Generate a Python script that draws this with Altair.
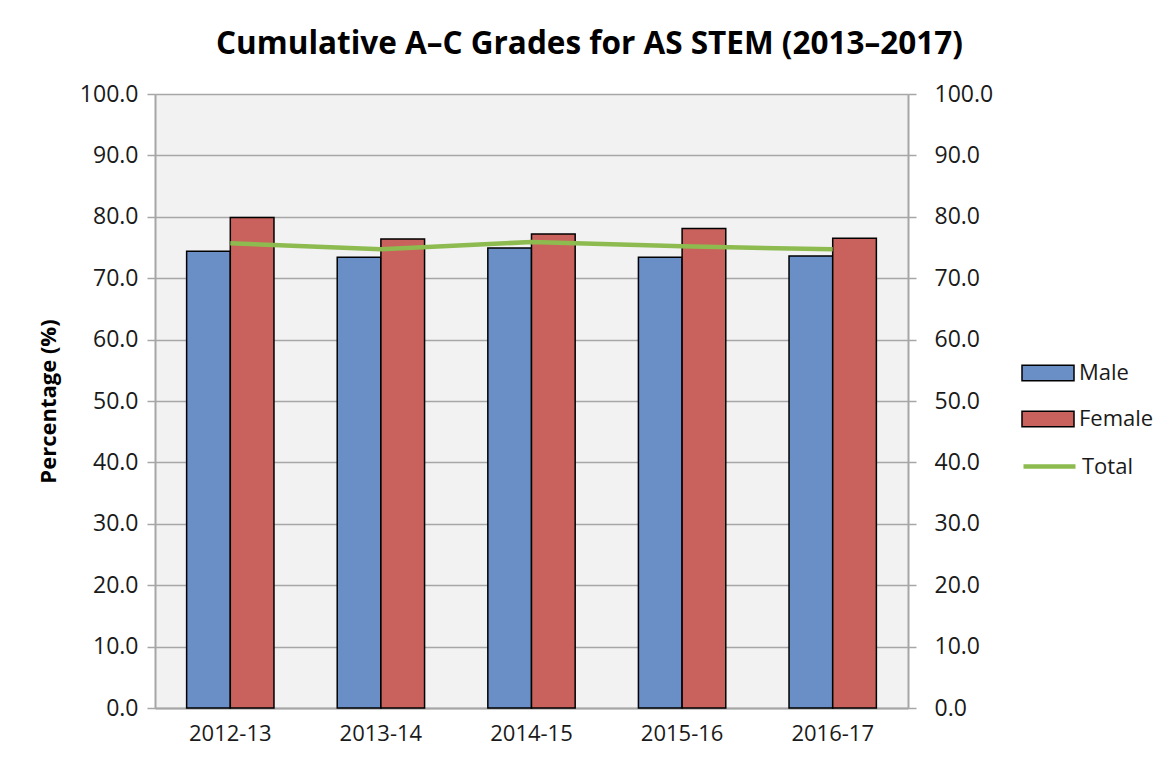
import altair as alt
import pandas as pd

periods = ["2012-13", "2013-14", "2014-15", "2015-16", "2016-17"]
male = [74.4, 73.4, 74.9, 73.4, 73.6]
female = [79.9, 76.4, 77.2, 78.1, 76.5]
total = [75.7, 74.7, 75.9, 75.2, 74.7]

FONT = "Open Sans"

bars_df = pd.DataFrame(
    {
        "period": periods * 2,
        "series": ["Male"] * len(periods) + ["Female"] * len(periods),
        "value": male + female,
    }
)
line_df = pd.DataFrame({"period": periods, "series": ["Total"] * len(periods), "value": total})

xenc = alt.X(
    "period:N",
    sort=periods,
    scale=alt.Scale(paddingInner=0.42, paddingOuter=0.21),
    axis=alt.Axis(
        title=None,
        labelAngle=0,
        ticks=False,
        labelFontSize=22,
        labelPadding=15,
        domainColor="#a6a6a6",
        domainWidth=2,
    ),
)

rect_path = "M-2,-0.6 L2,-0.6 L2,0.6 L-2,0.6 Z"
line_path = "M-2,0 L2,0"

bars = (
    alt.Chart(bars_df)
    .mark_bar(stroke="black", strokeWidth=1.5)
    .encode(
        x=xenc,
        xOffset=alt.XOffset("series:N", sort=["Male", "Female"]),
        y=alt.Y(
            "value:Q",
            scale=alt.Scale(domain=[0, 100], nice=False),
            axis=alt.Axis(
                title="Percentage (%)",
                values=list(range(0, 101, 10)),
                format=".1f",
                orient="left",
                grid=True,
                gridColor="#a6a6a6",
                gridWidth=1.5,
                tickSize=8,
                tickColor="#a6a6a6",
                tickWidth=1.5,
                domainColor="#a6a6a6",
                domainWidth=2,
                labelFontSize=23,
                labelPadding=9,
                titleFontSize=22,
                titleFontWeight="bold",
                titlePadding=19,
            ),
        ),
        color=alt.Color(
            "series:N",
            sort=["Male", "Female"],
            scale=alt.Scale(domain=["Male", "Female"], range=["#6a8fc7", "#c9625c"]),
            legend=alt.Legend(
                title=None,
                orient="none",
                legendX=879,
                legendY=265,
                symbolType=rect_path,
                symbolSize=676,
                symbolStrokeColor="black",
                symbolStrokeWidth=1.5,
                labelOffset=17,
                labelFontSize=22,
                rowPadding=21,
                padding=0,
            ),
        ),
    )
)

line = (
    alt.Chart(line_df)
    .mark_line(strokeWidth=4.5)
    .encode(
        x=xenc,
        y=alt.Y(
            "value:Q",
            scale=alt.Scale(domain=[0, 100], nice=False),
            axis=alt.Axis(
                title=None,
                values=list(range(0, 101, 10)),
                format=".1f",
                orient="right",
                grid=False,
                tickSize=8,
                tickColor="#a6a6a6",
                tickWidth=1.5,
                domainColor="#a6a6a6",
                domainWidth=2,
                labelFontSize=23,
                labelPadding=18,
            ),
        ),
        stroke=alt.Stroke(
            "series:N",
            scale=alt.Scale(domain=["Total"], range=["#8dbb4f"]),
            legend=alt.Legend(
                title=None,
                orient="none",
                legendX=879,
                legendY=357,
                symbolType=line_path,
                symbolSize=676,
                symbolStrokeWidth=4.5,
                labelOffset=17,
                labelFontSize=22,
                padding=0,
            ),
        ),
    )
)

chart = (
    alt.layer(bars, line)
    .resolve_scale(y="independent", color="independent")
    .properties(
        width=753,
        height=614,
        autosize=alt.AutoSizeParams(type="none"),
        padding={"left": 147, "top": 86, "right": 252, "bottom": 42},
        title=alt.TitleParams(
            "Cumulative A\u2013C Grades for AS STEM (2013\u20132017)",
            fontSize=31.5,
            fontWeight="bold",
            font=FONT,
            anchor="middle",
            dx=58,
            offset=23,
            color="#000000",
        ),
    )
    .configure(font=FONT, background="white")
    .configure_view(fill="#f2f2f2", stroke=None)
    .configure_axis(labelColor="#1a1a1a", titleColor="#000000", labelFont=FONT, titleFont=FONT)
    .configure_legend(labelColor="#1a1a1a", labelFont=FONT)
)

chart.save("out.html", embed_options={"renderer": "svg", "actions": False})
